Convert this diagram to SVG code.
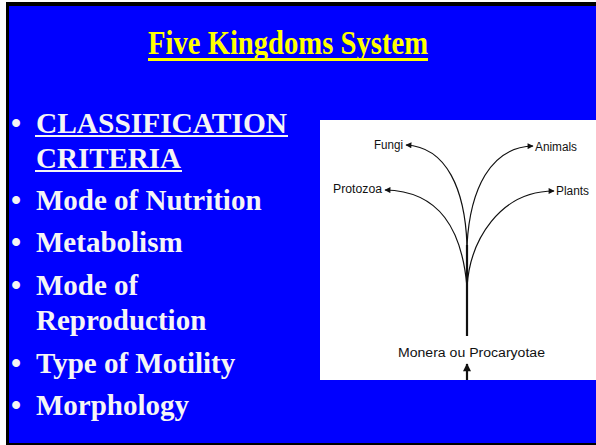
<svg xmlns="http://www.w3.org/2000/svg" width="596" height="445" viewBox="0 0 596 445">
<defs>
<style>
.title{font-family:"Liberation Serif","Times New Roman",serif;font-weight:bold;font-size:33px;fill:#ffff00}
.item{font-family:"Liberation Serif","Times New Roman",serif;font-weight:bold;font-size:29px;fill:#f5f5f5}
.lbl{font-family:"Liberation Sans",Arial,sans-serif;font-size:12px;fill:#111}
.br{fill:none;stroke:#111;stroke-width:1.2}
.stem{fill:none;stroke:#111;stroke-width:2.2}
</style>
<marker id="ah" viewBox="0 0 10 10" refX="9" refY="5" markerWidth="7" markerHeight="6" orient="auto" markerUnits="userSpaceOnUse">
<path d="M0,0 L10,5 L0,10 Z" fill="#111"/>
</marker>
<marker id="ahb" viewBox="0 0 10 10" refX="9" refY="5" markerWidth="10" markerHeight="8" orient="auto" markerUnits="userSpaceOnUse">
<path d="M0,0 L10,5 L0,10 Z" fill="#111"/>
</marker>
</defs>
<rect x="0" y="0" width="596" height="445" fill="#ffffff"/>
<rect x="6" y="2" width="590" height="443" fill="#000000"/>
<rect x="9" y="6" width="587" height="437" fill="#0000ff"/>

<g id="title">
<text class="title" x="148" y="54" textLength="280" lengthAdjust="spacingAndGlyphs">Five Kingdoms System</text>
<rect x="148" y="58" width="280" height="3" fill="#ffff00"/>
</g>

<g id="criteria">
<text class="item" x="11" y="133">•</text>
<text class="item" x="36" y="133" textLength="251" lengthAdjust="spacingAndGlyphs">CLASSIFICATION</text>
<rect x="35" y="135" width="253" height="2" fill="#f5f5f5"/>
<text class="item" x="36" y="168">CRITERIA</text>
<rect x="35" y="170" width="147" height="2" fill="#f5f5f5"/>
<text class="item" x="11" y="210">•</text>
<text class="item" x="36" y="210">Mode of Nutrition</text>
<text class="item" x="11" y="252">•</text>
<text class="item" x="36" y="252">Metabolism</text>
<text class="item" x="11" y="295">•</text>
<text class="item" x="36" y="295">Mode of</text>
<text class="item" x="36" y="330">Reproduction</text>
<text class="item" x="11" y="373">•</text>
<text class="item" x="36" y="373">Type of Motility</text>
<text class="item" x="11" y="415">•</text>
<text class="item" x="36" y="415">Morphology</text>
</g>

<rect x="320" y="120" width="276" height="260" fill="#ffffff"/>

<g id="connectors">
<path class="br" d="M467 245 C465 190 447 147 406 145" marker-end="url(#ah)"/>
<path class="br" d="M467 245 C470 190 490 147 533 146" marker-end="url(#ah)"/>
<path class="br" d="M467 287 C462 230 440 191 385 190" marker-end="url(#ah)"/>
<path class="br" d="M467 287 C470 240 500 191 554 191" marker-end="url(#ah)"/>
<path class="stem" d="M467 245 L467 336"/>
<path class="stem" d="M467 380 L467 364" marker-end="url(#ahb)"/>
</g>

<g id="fungi"><text class="lbl" x="374" y="149" textLength="29" lengthAdjust="spacingAndGlyphs">Fungi</text></g>
<g id="animals"><text class="lbl" x="535" y="151" textLength="42" lengthAdjust="spacingAndGlyphs">Animals</text></g>
<g id="protozoa"><text class="lbl" x="333" y="193" textLength="49" lengthAdjust="spacingAndGlyphs">Protozoa</text></g>
<g id="plants"><text class="lbl" x="556" y="195" textLength="33" lengthAdjust="spacingAndGlyphs">Plants</text></g>
<g id="monera"><text class="lbl" x="398" y="357" font-size="13" textLength="147" lengthAdjust="spacingAndGlyphs">Monera ou Procaryotae</text></g>
</svg>
